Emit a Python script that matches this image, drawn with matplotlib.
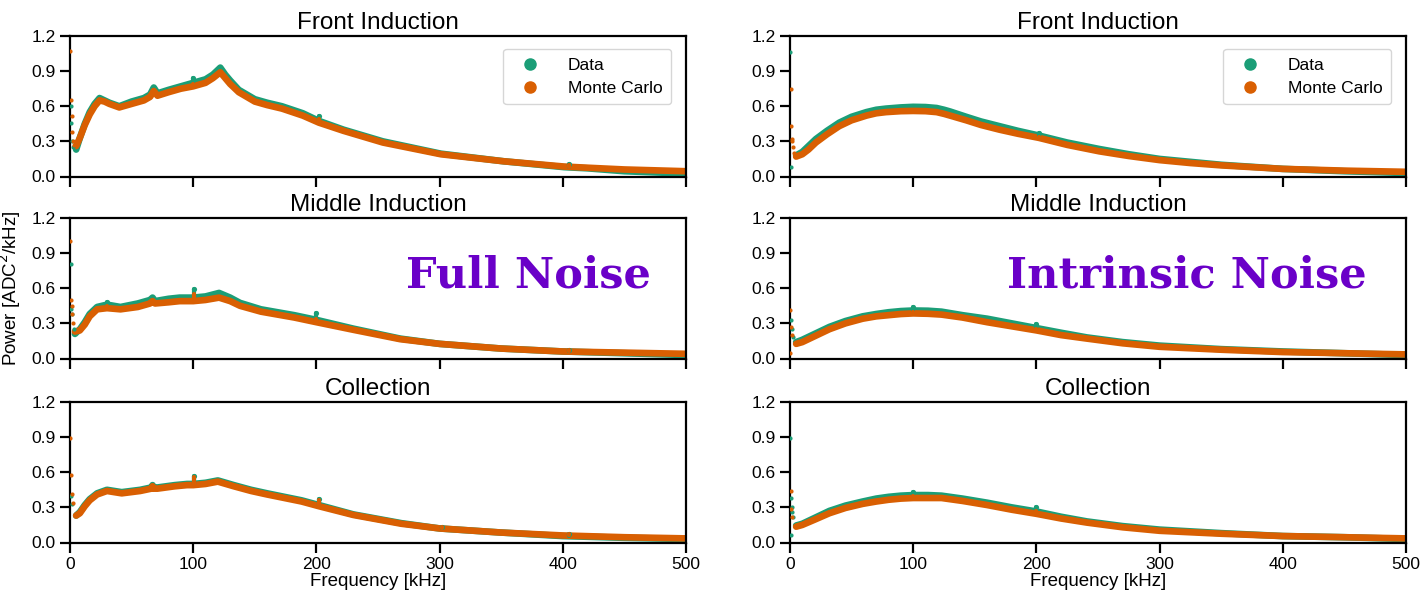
import matplotlib
matplotlib.use("Agg")
from matplotlib import pyplot as plt
from matplotlib.lines import Line2D

plt.rcParams['font.family'] = ['Liberation Sans', 'DejaVu Sans']

DATA_COLOR = '#1b9e77'
MC_COLOR = '#d95f02'
LABEL_COLOR = '#6a00c8'

titles = ["Front Induction", "Middle Induction", "Collection"]
column_labels = ["Full Noise", "Intrinsic Noise"]
freq_ticks = [0, 100, 200, 300, 400, 500]
power_ticks = [0.0, 0.3, 0.6, 0.9, 1.2]

# ---- full noise, front induction ----
full_front_freq = [5, 8, 12, 16, 20, 24, 28, 32, 40, 50, 60, 65, 68, 71, 80, 90, 100, 110, 116, 122,
                   126, 130, 137, 150, 160, 172, 189, 202, 222, 254, 301, 352, 401, 420, 450, 500]
full_front_data = [0.23, 0.33, 0.45, 0.55, 0.62, 0.67, 0.65, 0.63, 0.60, 0.64, 0.67, 0.70, 0.76, 0.71,
                   0.74, 0.77, 0.80, 0.83, 0.87, 0.93, 0.87, 0.82, 0.74, 0.66, 0.63, 0.60, 0.54, 0.475,
                   0.40, 0.30, 0.195, 0.13, 0.08, 0.07, 0.045, 0.025]
full_front_mc = [0.26, 0.33, 0.44, 0.53, 0.60, 0.65, 0.64, 0.62, 0.59, 0.62, 0.65, 0.68, 0.73, 0.69,
                 0.72, 0.75, 0.77, 0.80, 0.84, 0.89, 0.84, 0.79, 0.72, 0.64, 0.61, 0.58, 0.52, 0.46,
                 0.39, 0.29, 0.19, 0.13, 0.085, 0.075, 0.06, 0.045]
full_front_lf_data = ([0.5, 1.0, 1.5, 2.5], [0.60, 0.46, 0.30, 0.25])
full_front_lf_mc = ([0.3, 0.8, 1.3, 1.8, 2.5, 3.5], [1.07, 0.65, 0.52, 0.38, 0.30, 0.27])
# spikes: frequency, data base/top, MC base/top
full_front_spikes = ([100, 202, 405], [0.80, 0.47, 0.08], [0.84, 0.52, 0.11],
                     [0.77, 0.46, 0.085], [0.79, 0.49, 0.10])

# ---- full noise, middle induction ----
full_middle_freq = [4, 8, 12, 16, 22, 30, 41, 55, 65, 67, 69, 80, 89, 100, 110, 121, 130, 138, 155,
                    182, 200, 230, 268, 300, 350, 400, 450, 500]
full_middle_data = [0.21, 0.25, 0.31, 0.38, 0.44, 0.46, 0.44, 0.47, 0.50, 0.52, 0.49, 0.51, 0.52, 0.52,
                    0.53, 0.56, 0.52, 0.475, 0.42, 0.37, 0.33, 0.255, 0.17, 0.125, 0.085, 0.06, 0.045, 0.03]
full_middle_mc = [0.23, 0.24, 0.29, 0.36, 0.42, 0.43, 0.42, 0.44, 0.47, 0.49, 0.47, 0.48, 0.49, 0.49,
                  0.50, 0.52, 0.49, 0.45, 0.40, 0.35, 0.31, 0.245, 0.165, 0.125, 0.085, 0.06, 0.05, 0.04]
full_middle_lf_data = ([0.5, 1.2, 2.0, 3.0], [0.81, 0.42, 0.38, 0.25])
full_middle_lf_mc = ([0.3, 1.0, 1.5, 2.0, 2.5], [1.00, 0.50, 0.45, 0.38, 0.30])
full_middle_spikes = ([30, 101, 200, 405], [0.45, 0.52, 0.33, 0.06], [0.48, 0.59, 0.39, 0.075],
                      [0.43, 0.49, 0.31, 0.06], [0.45, 0.55, 0.34, 0.075])

# ---- full noise, collection ----
full_coll_freq = [5, 8, 12, 16, 22, 30, 42, 57, 66, 67, 68, 71, 85, 95, 100, 110, 120, 133, 147, 160,
                  188, 202, 230, 269, 300, 350, 400, 450, 500]
full_coll_data = [0.23, 0.26, 0.32, 0.37, 0.42, 0.45, 0.43, 0.45, 0.47, 0.49, 0.47, 0.47, 0.49, 0.50,
                  0.50, 0.51, 0.53, 0.49, 0.45, 0.42, 0.36, 0.32, 0.24, 0.165, 0.12, 0.085, 0.055, 0.04, 0.03]
full_coll_mc = [0.23, 0.25, 0.31, 0.36, 0.41, 0.44, 0.42, 0.44, 0.46, 0.48, 0.46, 0.46, 0.48, 0.49,
                0.49, 0.50, 0.52, 0.48, 0.44, 0.41, 0.35, 0.31, 0.235, 0.16, 0.12, 0.085, 0.06, 0.045, 0.035]
full_coll_lf_data = ([1.2, 2.0], [0.40, 0.33])
full_coll_lf_mc = ([0.3, 1.0, 1.5, 2.5], [0.89, 0.58, 0.41, 0.34])
full_coll_spikes = ([101, 202, 302, 405], [0.50, 0.32, 0.12, 0.055], [0.57, 0.37, 0.135, 0.07],
                    [0.49, 0.31, 0.12, 0.06], [0.56, 0.36, 0.13, 0.075])

# ---- intrinsic noise, front induction ----
intr_front_freq = [5, 10, 15, 21, 30, 40, 50, 62, 70, 78, 90, 100, 110, 119, 125, 130, 143, 155, 170,
                   185, 202, 225, 251, 275, 300, 325, 350, 400, 450, 500]
intr_front_data = [0.18, 0.21, 0.26, 0.32, 0.39, 0.46, 0.51, 0.55, 0.57, 0.58, 0.59, 0.595, 0.593,
                   0.585, 0.57, 0.555, 0.51, 0.47, 0.43, 0.39, 0.35, 0.29, 0.235, 0.19, 0.15, 0.125,
                   0.10, 0.065, 0.045, 0.03]
intr_front_mc = [0.17, 0.19, 0.23, 0.29, 0.36, 0.43, 0.48, 0.52, 0.54, 0.55, 0.558, 0.56, 0.558,
                 0.55, 0.535, 0.52, 0.48, 0.44, 0.40, 0.365, 0.33, 0.27, 0.215, 0.175, 0.14, 0.115,
                 0.095, 0.065, 0.05, 0.04]
intr_front_lf_data = ([0.3, 0.6], [1.06, 0.08])
intr_front_lf_mc = ([0.5, 1.0, 1.5, 2.0, 2.5, 3.5], [0.75, 0.43, 0.32, 0.30, 0.25, 0.20])
intr_front_spikes = ([202], [0.35], [0.375], [0.33], [0.34])

# ---- intrinsic noise, middle induction ----
intr_middle_freq = [5, 10, 20, 32, 45, 59, 70, 80, 90, 100, 112, 123, 140, 160, 180, 200, 220, 241,
                    270, 300, 350, 400, 450, 500]
intr_middle_data = [0.14, 0.16, 0.21, 0.27, 0.32, 0.36, 0.38, 0.395, 0.405, 0.41, 0.408, 0.40, 0.37,
                    0.34, 0.30, 0.26, 0.22, 0.18, 0.14, 0.11, 0.08, 0.06, 0.045, 0.03]
intr_middle_mc = [0.125, 0.14, 0.19, 0.25, 0.30, 0.34, 0.36, 0.37, 0.38, 0.385, 0.382, 0.375, 0.35,
                  0.31, 0.275, 0.24, 0.20, 0.17, 0.13, 0.10, 0.075, 0.055, 0.045, 0.035]
intr_middle_lf_data = ([0.5, 1.5, 2.5], [0.33, 0.25, 0.18])
intr_middle_lf_mc = ([0.3, 1.0, 2.0, 0.4], [0.41, 0.27, 0.20, 0.05])
intr_middle_spikes = ([100, 200], [0.41, 0.26], [0.44, 0.295], [0.385, 0.24], [0.40, 0.255])

# ---- intrinsic noise, collection ----
intr_coll_freq = intr_middle_freq
intr_coll_data = [0.145, 0.16, 0.21, 0.27, 0.315, 0.35, 0.375, 0.39, 0.40, 0.405, 0.405, 0.40, 0.375,
                  0.34, 0.30, 0.265, 0.22, 0.18, 0.14, 0.11, 0.08, 0.055, 0.045, 0.03]
intr_coll_mc = [0.135, 0.15, 0.195, 0.25, 0.295, 0.33, 0.35, 0.365, 0.375, 0.38, 0.38, 0.38, 0.355,
                0.32, 0.28, 0.245, 0.205, 0.17, 0.13, 0.10, 0.075, 0.055, 0.045, 0.035]
intr_coll_lf_data = ([0.3, 1.0, 1.5, 2.0, 2.5, 0.5], [0.89, 0.38, 0.30, 0.26, 0.22, 0.06])
intr_coll_lf_mc = ([0.5, 1.0, 2.0], [0.44, 0.29, 0.22])
intr_coll_spikes = ([100, 200], [0.405, 0.265], [0.435, 0.30], [0.38, 0.245], [0.395, 0.265])

panels = [
    [(full_front_freq, full_front_data, full_front_mc, full_front_lf_data, full_front_lf_mc, full_front_spikes),
     (full_middle_freq, full_middle_data, full_middle_mc, full_middle_lf_data, full_middle_lf_mc, full_middle_spikes),
     (full_coll_freq, full_coll_data, full_coll_mc, full_coll_lf_data, full_coll_lf_mc, full_coll_spikes)],
    [(intr_front_freq, intr_front_data, intr_front_mc, intr_front_lf_data, intr_front_lf_mc, intr_front_spikes),
     (intr_middle_freq, intr_middle_data, intr_middle_mc, intr_middle_lf_data, intr_middle_lf_mc, intr_middle_spikes),
     (intr_coll_freq, intr_coll_data, intr_coll_mc, intr_coll_lf_data, intr_coll_lf_mc, intr_coll_spikes)],
]


def draw_panel(ax, freq, data, mc, lf_data, lf_mc, spikes):
    """
    Draw one spectrum: thick bands for data and MC, the scattered lowest bins and narrow line spikes.
    """
    spike_f, data_lo, data_hi, mc_lo, mc_hi = spikes
    ax.plot(freq, data, color=DATA_COLOR, lw=4.8, solid_joinstyle='round', solid_capstyle='round')
    ax.plot(freq, mc, color=MC_COLOR, lw=4.8, solid_joinstyle='round', solid_capstyle='round')
    # spikes sit on top of both bands
    ax.vlines(spike_f, data_lo, data_hi, color=DATA_COLOR, lw=3, capstyle='round', zorder=3)
    ax.scatter(spike_f, data_hi, s=14, color=DATA_COLOR, linewidths=0, zorder=3)
    ax.vlines(spike_f, mc_lo, mc_hi, color=MC_COLOR, lw=3, capstyle='round', zorder=3.1)
    ax.scatter(lf_data[0], lf_data[1], s=9, color=DATA_COLOR, linewidths=0, zorder=3)
    ax.scatter(lf_mc[0], lf_mc[1], s=9, color=MC_COLOR, linewidths=0, zorder=3)

    ax.set_xlim(0, 500)
    ax.set_ylim(0, 1.2)
    ax.set_xticks(freq_ticks)
    ax.set_yticks(power_ticks)
    ax.set_yticklabels([f"{t:.1f}" for t in power_ticks])
    ax.tick_params(direction='out', length=7, width=1.6, labelsize=12.5)
    for spine in ax.spines.values():
        spine.set_linewidth(1.6)


fig = plt.figure(figsize=(14.2, 5.94), dpi=100)

col_left = [70 / 1420, 790 / 1420]
col_width = 616 / 1420
row_bottom = [1 - 176.5 / 594, 1 - 358.5 / 594, 1 - 542.5 / 594]
row_height = 140.5 / 594

for c in range(2):
    for r in range(3):
        ax = fig.add_axes([col_left[c], row_bottom[r], col_width, row_height])
        draw_panel(ax, *panels[c][r])
        ax.set_title(titles[r], fontsize=17.5, pad=5)
        if r < 2:
            ax.set_xticklabels([])
        else:
            ax.set_xlabel("Frequency [kHz]", fontsize=13.5, labelpad=1)
        if c == 0 and r == 1:
            ax.set_ylabel("Power [ADC$^2$/kHz]", fontsize=13.5, labelpad=6)
        if r == 0:
            handles = [Line2D([], [], ls='', marker='o', ms=8, color=DATA_COLOR),
                       Line2D([], [], ls='', marker='o', ms=8, color=MC_COLOR)]
            ax.legend(handles, ["Data", "Monte Carlo"], loc='upper right', fontsize=12.5,
                      handletextpad=1.2, borderpad=0.5, labelspacing=0.45,
                      bbox_to_anchor=(0.99, 0.97))

# Big column labels inside the middle row
label_x = [528 / 1420, 1187 / 1420]
for c in range(2):
    fig.text(label_x[c], 1 - 287 / 594, column_labels[c], ha='center', va='baseline',
             fontsize=31, fontweight='bold', color=LABEL_COLOR, family='DejaVu Serif')

fig.savefig("out.png", dpi=100)
